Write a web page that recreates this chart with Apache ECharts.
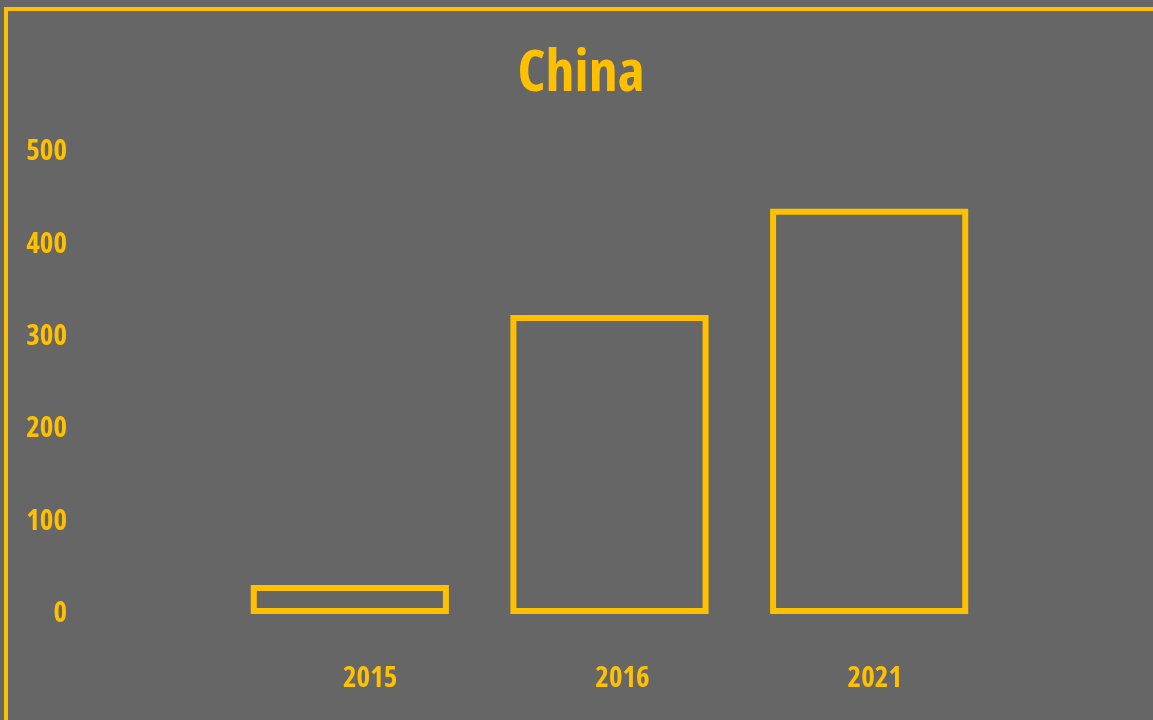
<!DOCTYPE html>
<html>
<head>
<meta charset="utf-8">
<script src="https://cdn.jsdelivr.net/npm/echarts@6/dist/echarts.min.js"></script>
<style>
html,body{margin:0;padding:0;background:#666666;}
#chart{width:1153px;height:720px;}
</style>
</head>
<body>
<div id="chart"></div>
<script>
const titleText = 'China';
const categories = ['2015', '2016', '2021'];
const values = [25, 317, 432];
const yTicks = [0, 100, 200, 300, 400, 500];

const YELLOW = '#FFC000';
const BG = '#666666';
const FONT = "'Open Sans'";
const WEIGHT = 'condensed bold';

const chart = echarts.init(document.getElementById('chart'), null, {renderer: 'canvas'});
chart.setOption({
  backgroundColor: BG,
  animation: false,
  title: {
    text: titleText,
    left: 576,
    textAlign: 'center',
    top: 40,
    textStyle: {color: YELLOW, fontSize: 58, fontWeight: WEIGHT, fontFamily: FONT}
  },
  graphic: [{
    type: 'rect',
    shape: {x: 6, y: 9, width: 1200, height: 800},
    style: {fill: 'none', stroke: YELLOW, lineWidth: 4},
    silent: true
  }],
  grid: [
    {left: 220, right: 154, top: 149, bottom: 109},
    {left: 244, right: 152, top: 149, bottom: 109}
  ],
  xAxis: [
    {gridIndex: 0, type: 'category', data: categories,
     axisLine: {show: false}, axisTick: {show: false}, axisLabel: {show: false}},
    {gridIndex: 1, type: 'category', data: categories,
     axisLine: {show: false}, axisTick: {show: false},
     axisLabel: {color: YELLOW, fontSize: 29, fontWeight: WEIGHT, fontFamily: FONT, margin: 53}}
  ],
  yAxis: [
    {gridIndex: 0, type: 'value', min: yTicks[0], max: yTicks[yTicks.length - 1], interval: 100,
     splitLine: {show: false}, axisLine: {show: false}, axisTick: {show: false},
     axisLabel: {margin: 153, align: 'right',
                 formatter: '{a|{value}}',
                 rich: {a: {color: YELLOW, fontSize: 29, fontWeight: WEIGHT, fontFamily: FONT,
                            padding: [6, 0, 0, 0]}}}},
    {gridIndex: 1, type: 'value', min: 0, max: 1, show: false}
  ],
  series: [{
    type: 'custom',
    xAxisIndex: 0, yAxisIndex: 0,
    data: values.map((v, i) => [i, v]),
    encode: {x: 0, y: 1},
    renderItem: function (params, api) {
      const top = api.coord([api.value(0), api.value(1)]);
      const base = api.coord([api.value(0), 0]);
      const w = api.size([1, 0])[0] * 0.74;
      return {
        type: 'rect',
        shape: {x: top[0] - w / 2, y: top[1], width: w, height: base[1] - top[1]},
        style: {fill: 'none', stroke: YELLOW, lineWidth: 6}
      };
    }
  }]
});
</script>
</body>
</html>
